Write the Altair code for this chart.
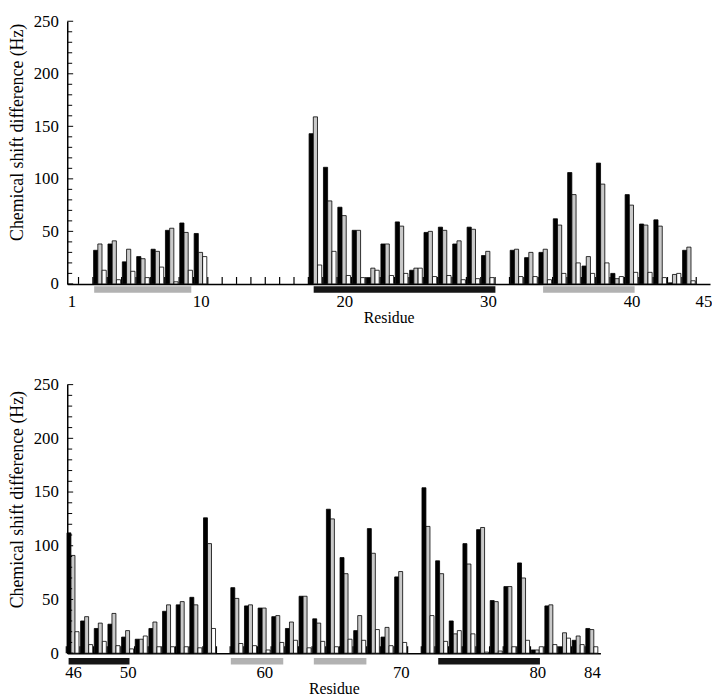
import altair as alt
import pandas as pd

SERIES = ["black", "gray", "white"]

# ---------------- top panel (residues 1-45) ----------------
top_res = [3, 4, 5, 6, 7, 8, 9, 10,
           18, 19, 20, 21, 22, 23, 24, 25, 26, 27, 28, 29, 30,
           32, 33, 34, 35, 36, 37, 38, 39, 40, 41, 42, 43, 44]
top_black = [32, 38, 21, 26, 33, 51, 58, 48,
             143, 111, 73, 51, 6, 38, 59, 13, 49, 54, 38, 54, 27,
             32, 25, 30, 62, 106, 17, 115, 10, 85, 57, 61, 1, 32]
top_gray = [38, 41, 33, 24, 31, 53, 49, 30,
            159, 79, 65, 51, 15, 38, 55, 15, 50, 51, 41, 52, 31,
            33, 30, 33, 56, 85, 26, 95, 5, 75, 56, 55, 9, 35]
top_white = [13, 4, 12, 6, 16, 2, 13, 26,
             18, 31, 8, 6, 13, 8, 10, 15, 7, 8, 4, 5, 6,
             7, 7, 4, 10, 20, 10, 20, 7, 11, 11, 6, 10, 3]
top_ticks = list(range(2, 46))
top_labels = [1, 10, 20, 30, 40, 45]
top_ss_start = [2.59, 17.87, 33.84]
top_ss_end = [9.35, 30.52, 40.21]
top_ss_kind = ["gray", "black", "gray"]

# ---------------- bottom panel (residues 46-84) ----------------
bot_res = [46, 47, 48, 49, 50, 51, 52, 53, 54, 55, 56,
           58, 59, 60, 61, 62, 63, 64, 65, 66, 67, 68, 69, 70,
           72, 73, 74, 75, 76, 77, 78, 79, 80, 81, 82, 83, 84]
bot_black = [112, 30, 23, 27, 15, 13, 23, 39, 45, 52, 126,
             61, 44, 42, 34, 23, 53, 32, 134, 89, 21, 116, 15, 71,
             154, 86, 30, 102, 115, 49, 62, 84, 3, 44, 6, 12, 23]
bot_gray = [91, 34, 28, 37, 21, 13, 29, 45, 48, 45, 102,
            51, 45, 42, 35, 29, 53, 28, 125, 74, 35, 93, 24, 76,
            118, 74, 18, 83, 117, 48, 62, 70, 3, 45, 19, 16, 22]
bot_white = [20, 8, 11, 7, 4, 16, 6, 6, 6, 5, 23,
             9, 7, 3, 10, 12, 5, 11, 6, 13, 12, 22, 7, 10,
             35, 11, 21, 18, 1, 2, 6, 12, 6, 8, 14, 8, 6]
bot_ticks = list(range(46, 85))
bot_labels = [46, 50, 60, 70, 80, 84]
bot_ss_start = [45.67, 57.55, 63.63, 72.74]
bot_ss_end = [50.13, 61.39, 67.48, 80.19]
bot_ss_kind = ["black", "gray", "gray", "black"]

Y_LABELS = [0, 50, 100, 150, 200, 250]
Y_MINOR = [v for v in range(0, 251, 10) if v % 50 != 0]

FONT = "Liberation Serif"
XT = "Residue"
YT = "Chemical shift difference (Hz)"


def long_df(res, b, g, w):
    rows = []
    for r, vb, vg, vw in zip(res, b, g, w):
        for i, (s, v) in enumerate(zip(SERIES, (vb, vg, vw))):
            rows.append({"residue": r, "series": s, "idx": i, "value": v})
    return pd.DataFrame(rows)


def panel(df, ticks, labels, ss_s, ss_e, ss_k, domain, width, height,
          title_y, ss_off, lab_pad):
    xs = alt.Scale(domain=domain, nice=False, zero=False)
    ys = alt.Scale(domain=[0, 250], nice=False)

    bars = alt.Chart(df).transform_calculate(
        x0="datum.residue - 0.45 + datum.idx * 0.295",
        x1="datum.residue - 0.45 + datum.idx * 0.295 + 0.29",
        fc="datum.series == 'black' ? '#000000' : (datum.series == 'gray' ? '#c9c9c9' : '#ffffff')",
    ).mark_rect(stroke="black", strokeWidth=0.8).encode(
        x=alt.X("x0:Q", scale=xs, title=XT,
                axis=alt.Axis(values=labels, format="d",
                              labelFont=FONT, titleFont=FONT,
                              labelPadding=lab_pad, titlePadding=0)),
        x2="x1:Q",
        y=alt.Y("value:Q", scale=ys, title=YT,
                axis=alt.Axis(values=Y_LABELS, format="d",
                              labelFont=FONT, titleFont=FONT,
                              titleAngle=270, titleAlign="center",
                              titleBaseline="middle", titleX=-50,
                              titleY=title_y, titleFontSize=18,
                              labelPadding=9)),
        y2=alt.datum(0),
        fill=alt.Fill("fc:N", scale=None),
    )

    xt = alt.Chart(pd.DataFrame({"residue": ticks})).transform_calculate(
        tx="datum.residue - 0.5"
    ).mark_rule(color="black", strokeWidth=1.2).encode(
        x=alt.X("tx:Q", scale=xs, title=XT),
        y=alt.value(height), y2=alt.value(height - 7),
    )

    ymaj = alt.Chart(pd.DataFrame({"v": Y_LABELS})).mark_rule(
        color="black", strokeWidth=1).encode(
        y=alt.Y("v:Q", scale=ys, title=YT),
        x=alt.value(0), x2=alt.value(6))
    ymin = alt.Chart(pd.DataFrame({"v": Y_MINOR})).mark_rule(
        color="black", strokeWidth=1).encode(
        y=alt.Y("v:Q", scale=ys, title=YT),
        x=alt.value(0), x2=alt.value(5))

    ssdf = pd.DataFrame({"start": ss_s, "end": ss_e, "kind": ss_k})
    ss = alt.Chart(ssdf).transform_calculate(
        fc="datum.kind == 'black' ? '#151515' : '#b2b2b2'"
    ).mark_rect().encode(
        x=alt.X("start:Q", scale=xs, title=XT), x2="end:Q",
        y=alt.value(height + ss_off[0]), y2=alt.value(height + ss_off[1]),
        fill=alt.Fill("fc:N", scale=None),
    )

    return alt.layer(bars, xt, ymin, ymaj, ss).properties(
        width=width, height=height)


top = panel(long_df(top_res, top_black, top_gray, top_white), top_ticks,
            top_labels, top_ss_start, top_ss_end, top_ss_kind,
            [0.715, 45.46], 651, 266, 112, (2.5, 9), 10)
bottom = panel(long_df(bot_res, bot_black, bot_gray, bot_white), bot_ticks,
               bot_labels, bot_ss_start, bot_ss_end, bot_ss_kind,
               [45.57, 84.62], 540, 272, 116, (5, 11.5), 12)

chart = alt.vconcat(top, bottom, spacing=51).properties(
    padding=0
).configure(font=FONT).configure_view(stroke=None).configure_axis(
    domainColor="black", domainWidth=1.5, ticks=False, tickSize=0,
    grid=False, labelFont=FONT, labelFontSize=17, labelColor="black",
    titleFont=FONT, titleFontSize=16, titleFontWeight="normal",
    titleColor="black", labelOverlap=False, labelFlush=False,
)

chart.save("out.html", embed_options={"renderer": "svg", "actions": False})
